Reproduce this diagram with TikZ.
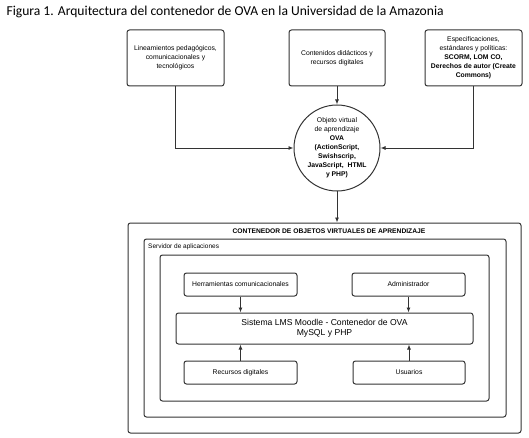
\documentclass[tikz,border=0pt]{standalone}
\usepackage{fontspec}
\setmainfont{Liberation Sans}
\newfontfamily\capfont{Carlito}
\usetikzlibrary{arrows.meta,positioning,calc}
\definecolor{linegray}{HTML}{333333}
\tikzset{
	box/.style={draw=linegray, line width=1pt, rounded corners=2.5pt, align=center, inner sep=1pt, font=\fontsize{6.8}{9}\selectfont},
	frame/.style={draw=linegray, line width=1pt, rounded corners=2.5pt, inner sep=0pt},
	arr/.style={draw=linegray, line width=0.9pt, -{Latex[length=5pt,width=4pt]}},
	ln/.style={draw=linegray, line width=0.9pt}
}

\begin{document}
\begin{tikzpicture}[x=1pt,y=-1pt]
	\useasboundingbox (0,0) rectangle (529,438);
	\node[anchor=base west, font=\capfont\fontsize{13.6}{15}\selectfont] (cap) at (3,16) {Figura 1. Arquitectura del contenedor de OVA en la Universidad de la Amazonia};
	\node[box, minimum width=97pt, minimum height=56pt] (lin) at (175.5,58) {Lineamientos pedagógicos,\\comunicacionales y\\tecnológicos};
	\node[box, minimum width=96pt, minimum height=56pt] (cont) at (337,58) {Contenidos didácticos y\\recursos digitales};
	\node[box, minimum width=97pt, minimum height=56pt] (esp) at (473.5,58) {Especificaciones,\\estándares y políticas:\\\textbf{SCORM, LOM CO,}\\\textbf{Derechos de autor (Create}\\\textbf{Commons)}};
	\node[box, circle, minimum size=86pt, inner sep=0pt, rounded corners=0pt] (ova) at (337,148) {Objeto virtual\\de aprendizaje\\\textbf{OVA}\\\textbf{(ActionScript,}\\\textbf{Swishscrip,}\\\textbf{JavaScript,\ \ HTML}\\\textbf{y PHP)}};
	\node[frame, minimum width=393pt, minimum height=210pt] (outer) at (324.5,328) {};
	\node[frame, minimum width=362pt, minimum height=178pt] (serv) at (325,328) {};
	\node[frame, minimum width=329pt, minimum height=146pt] (inner) at (324.5,328) {};
	\node[font=\fontsize{6.7}{8}\selectfont\bfseries] (ttl) at (329,231) {CONTENEDOR DE OBJETOS VIRTUALES DE APRENDIZAJE};
	\node[anchor=west, inner sep=0pt, font=\fontsize{6.5}{8}\selectfont] (servlbl) at (148,247) {Servidor de aplicaciones};
	\node[box, minimum width=113pt, minimum height=23pt] (herr) at (240.5,284.5) {Herramientas comunicacionales};
	\node[box, minimum width=113pt, minimum height=23pt] (adm) at (408.5,284.5) {Administrador};
	\node[box, minimum width=297pt, minimum height=31pt, font=\fontsize{8.6}{10}\selectfont] (lms) at (324.5,328.5) {Sistema LMS Moodle - Contenedor de OVA\\MySQL y PHP};
	\node[box, minimum width=113pt, minimum height=23pt] (rec) at (240.5,372.5) {Recursos digitales};
	\node[box, minimum width=112pt, minimum height=23pt] (usr) at (409,372.5) {Usuarios};
	\draw[arr] (lin.south) |- (ova.west);
	\draw[arr] (esp.south) |- (ova.east);
	\draw[arr] (cont.south) -- (ova.north);
	\draw[arr] (ova.south) -- (ova.south |- outer.north);
	\draw[arr] (herr.south) -- (herr.south |- lms.north);
	\draw[arr] (adm.south) -- (adm.south |- lms.north);
	\draw[arr] (rec.north) -- (rec.north |- lms.south);
	\draw[arr] (usr.north) -- (usr.north |- lms.south);
\end{tikzpicture}
\end{document}
